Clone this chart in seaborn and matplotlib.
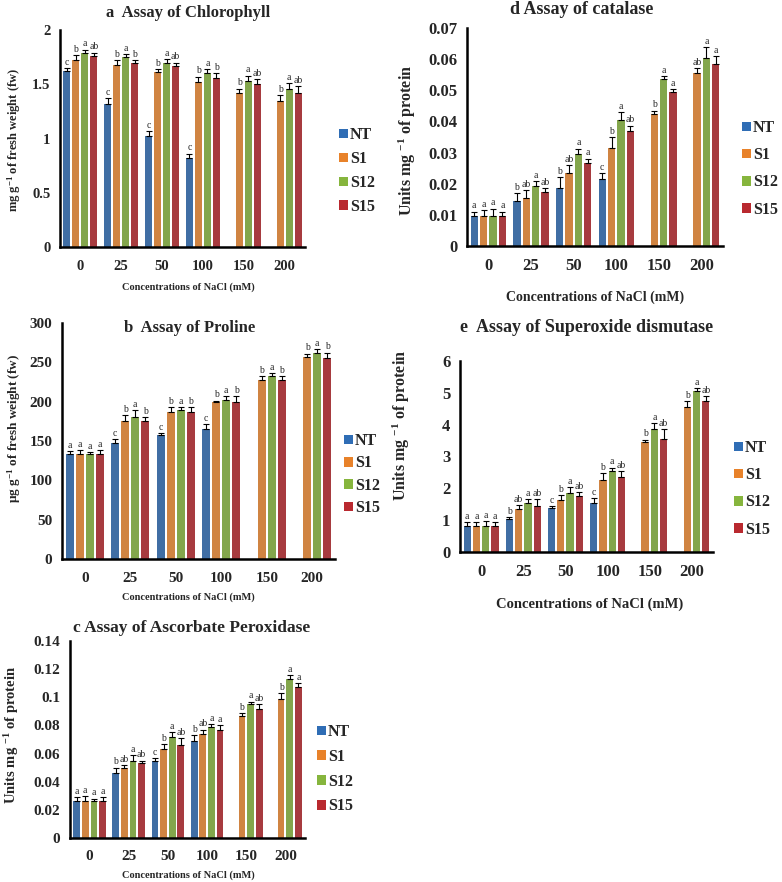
import matplotlib
matplotlib.use("Agg")
import matplotlib.pyplot as plt
import seaborn as sns
import pandas as pd
import numpy as np
from matplotlib.patches import Patch

# Data
conc = ["0", "25", "50", "100", "150", "200"]
lines = ["NT", "S1", "S12", "S15"]
colors = ["#2f6db5", "#e8822a", "#86b53d", "#b9292f"]
nan = np.nan

# a Chlorophyll (mg g-1 fw)
chl = {"NT": [1.62, 1.32, 1.02, 0.82, nan, nan],
       "S1": [1.72, 1.68, 1.61, 1.52, 1.42, 1.35],
       "S12": [1.79, 1.75, 1.70, 1.60, 1.53, 1.46],
       "S15": [1.76, 1.70, 1.67, 1.56, 1.50, 1.42]}
chl_err = {"NT": [0.03, 0.05, 0.05, 0.04, 0, 0],
           "S1": [0.05, 0.04, 0.03, 0.05, 0.04, 0.05],
           "S12": [0.03, 0.03, 0.03, 0.04, 0.05, 0.05],
           "S15": [0.03, 0.02, 0.03, 0.04, 0.05, 0.06]}
chl_let = {"NT": ["c", "c", "c", "c", "", ""],
           "S1": ["b", "b", "b", "b", "b", "b"],
           "S12": ["a", "a", "a", "a", "a", "a"],
           "S15": ["ab", "b", "ab", "b", "ab", "ab"]}

# b Proline (ug g-1 fw)
pro = {"NT": [133, 148, 157, 165, nan, nan],
       "S1": [133, 176, 187, 199, 228, 257],
       "S12": [133, 180, 189, 202, 233, 262],
       "S15": [133, 176, 187, 199, 227, 255]}
pro_err = {"NT": [4, 4, 3, 6, 0, 0],
           "S1": [5, 7, 6, 2, 4, 4],
           "S12": [3, 9, 4, 5, 3, 5],
           "S15": [5, 4, 6, 8, 5, 7]}
pro_let = {"NT": ["a", "c", "c", "c", "", ""],
           "S1": ["a", "b", "b", "b", "b", "b"],
           "S12": ["a", "a", "a", "a", "a", "a"],
           "S15": ["a", "b", "b", "b", "b", "b"]}

# c Ascorbate peroxidase (units mg-1 protein)
apx = {"NT": [0.026, 0.046, 0.055, 0.069, nan, nan],
       "S1": [0.026, 0.050, 0.063, 0.074, 0.087, 0.099],
       "S12": [0.026, 0.055, 0.072, 0.079, 0.095, 0.113],
       "S15": [0.026, 0.053, 0.066, 0.077, 0.092, 0.107]}
apx_err = {"NT": [0.003, 0.004, 0.002, 0.004, 0, 0],
           "S1": [0.004, 0.002, 0.004, 0.003, 0.002, 0.004],
           "S12": [0.002, 0.004, 0.003, 0.002, 0.002, 0.003],
           "S15": [0.003, 0.002, 0.005, 0.003, 0.003, 0.003]}
apx_let = {"NT": ["a", "b", "c", "b", "", ""],
           "S1": ["a", "ab", "b", "ab", "b", "b"],
           "S12": ["a", "a", "a", "a", "a", "a"],
           "S15": ["a", "ab", "ab", "a", "ab", "a"]}

# d Catalase (units mg-1 protein)
cat = {"NT": [0.0095, 0.0145, 0.0185, 0.0215, nan, nan],
       "S1": [0.0095, 0.0155, 0.0235, 0.0315, 0.0425, 0.0555],
       "S12": [0.0095, 0.0193, 0.0295, 0.0405, 0.0535, 0.0605],
       "S15": [0.0095, 0.0175, 0.0265, 0.0368, 0.0495, 0.0585]}
cat_err = {"NT": [0.0015, 0.0025, 0.0035, 0.002, 0, 0],
           "S1": [0.002, 0.0025, 0.0025, 0.0035, 0.001, 0.0015],
           "S12": [0.0025, 0.0015, 0.0018, 0.0025, 0.001, 0.0033],
           "S15": [0.0015, 0.001, 0.0015, 0.0018, 0.0008, 0.0025]}
cat_let = {"NT": ["a", "b", "b", "c", "", ""],
           "S1": ["a", "ab", "ab", "b", "b", "ab"],
           "S12": ["a", "a", "a", "a", "a", "a"],
           "S15": ["a", "ab", "a", "ab", "a", "a"]}

# e Superoxide dismutase (units mg-1 protein)
sod = {"NT": [0.82, 1.05, 1.37, 1.55, nan, nan],
       "S1": [0.82, 1.35, 1.62, 2.25, 3.45, 4.55],
       "S12": [0.82, 1.55, 1.85, 2.55, 3.85, 5.05],
       "S15": [0.82, 1.45, 1.75, 2.35, 3.55, 4.75]}
sod_err = {"NT": [0.12, 0.05, 0.07, 0.15, 0, 0],
           "S1": [0.13, 0.12, 0.18, 0.22, 0.08, 0.2],
           "S12": [0.15, 0.1, 0.2, 0.1, 0.2, 0.1],
           "S15": [0.12, 0.2, 0.12, 0.2, 0.3, 0.15]}
sod_let = {"NT": ["a", "b", "c", "c", "", ""],
           "S1": ["a", "ab", "b", "b", "b", "b"],
           "S12": ["a", "a", "a", "a", "a", "a"],
           "S15": ["a", "ab", "ab", "ab", "ab", "ab"]}

sns.set_style("white")
plt.rcParams["font.family"] = ["Liberation Serif", "DejaVu Serif"]
plt.rcParams["mathtext.fontset"] = "custom"
plt.rcParams["mathtext.rm"] = "Liberation Serif:bold"
plt.rcParams["mathtext.it"] = "Liberation Serif:bold"
plt.rcParams["mathtext.bf"] = "Liberation Serif:bold"

W, H = 782, 882
fig = plt.figure(figsize=(W / 100, H / 100), dpi=100)


def px_axes(left, top, right, bottom):
    return fig.add_axes([left / W, 1 - bottom / H, (right - left) / W, (bottom - top) / H])


def draw_panel(box, vals, errs, lets, ylim, yticks, ytl, tick_fs, let_fs):
    ax = px_axes(*box)
    rows = []
    for ln in lines:
        for c, v in zip(conc, vals[ln]):
            if not np.isnan(v):
                rows.append({"conc": c, "line": ln, "value": v})
    df = pd.DataFrame(rows)
    sns.barplot(data=df, x="conc", y="value", hue="line", order=conc, hue_order=lines,
                palette=colors, errorbar=None, width=0.88, gap=0.22, legend=False,
                edgecolor="none", ax=ax)
    bar_conts = list(ax.containers)
    for hi, cont in enumerate(bar_conts):
        ln = lines[hi]
        for bar in cont:
            xc = bar.get_x() + bar.get_width() / 2
            ci = int(round(xc))
            h = bar.get_height()
            e = errs[ln][ci]
            ax.errorbar(xc, h, yerr=[[0], [e]], fmt="none", ecolor="black",
                        elinewidth=0.8, capsize=2.2, capthick=0.8)
            ax.text(xc, h + e + ylim[1] * 0.006, lets[ln][ci], ha="center", va="bottom",
                    fontsize=let_fs)
    ax.set_xlim(-0.5, 5.5)
    ax.set_ylim(*ylim)
    ax.set_yticks(yticks)
    ax.set_yticklabels(ytl, fontsize=tick_fs, fontweight="bold")
    ax.set_xticks(range(6))
    ax.set_xticklabels(conc, fontsize=tick_fs, fontweight="bold")
    ax.set_xticks(np.arange(-0.5, 6, 1), minor=True)
    ax.tick_params(axis="x", which="major", length=0, pad=9)
    ax.tick_params(axis="x", which="minor", length=4, width=1.2, direction="out")
    ax.tick_params(axis="y", length=4, width=1.2, direction="out", pad=3)
    ax.set_xlabel("")
    ax.set_ylabel("")
    sns.despine(ax=ax)
    for s in ["left", "bottom"]:
        ax.spines[s].set_linewidth(1.8)
        ax.spines[s].set_color("black")
    return ax


def legend_at(x, y, spacing, fs=11.5):
    handles = [Patch(facecolor=c, edgecolor="none") for c in colors]
    fig.legend(handles, lines, loc="upper left", bbox_to_anchor=(x / W, 1 - y / H),
               frameon=False, handlelength=0.55, handleheight=0.55, handletextpad=0.15,
               labelspacing=spacing, borderpad=0, borderaxespad=0,
               prop={"family": "Liberation Serif", "weight": "bold", "size": fs})


# a Chlorophyll
draw_panel((60, 30, 305, 247), chl, chl_err, chl_let, (0, 2),
           [0, 0.5, 1, 1.5, 2], ["0", "0.5", "1", "1.5", "2"], 10.5, 7)
fig.text(188 / W, 1 - 13 / H, "a  Assay of Chlorophyll", ha="center", va="center",
         fontsize=12, fontweight="bold")
fig.text(188 / W, 1 - 287 / H, "Concentrations of NaCl (mM)", ha="center", va="center",
         fontsize=7.5, fontweight="bold")
fig.text(14 / W, 1 - 140 / H, r"mg g$^{-1}$ of fresh weight (fw)", ha="center", va="center",
         rotation=90, fontsize=9, fontweight="bold")
legend_at(339, 127, 0.5)

# d Catalase
draw_panel((467, 28, 723, 246), cat, cat_err, cat_let, (0, 0.07),
           [0, 0.01, 0.02, 0.03, 0.04, 0.05, 0.06, 0.07],
           ["0", "0.01", "0.02", "0.03", "0.04", "0.05", "0.06", "0.07"], 12, 7)
fig.text(582 / W, 1 - 10 / H, "d Assay of catalase", ha="center", va="center",
         fontsize=13, fontweight="bold")
fig.text(595 / W, 1 - 297 / H, "Concentrations of NaCl (mM)", ha="center", va="center",
         fontsize=10, fontweight="bold")
fig.text(407 / W, 1 - 140 / H, r"Units mg $^{-1}$ of protein", ha="center", va="center",
         rotation=90, fontsize=11.5, fontweight="bold")
legend_at(742, 120, 0.7)

# b Proline
draw_panel((62, 323, 335, 559), pro, pro_err, pro_let, (0, 300),
           [0, 50, 100, 150, 200, 250, 300],
           ["0", "50", "100", "150", "200", "250", "300"], 11, 7)
fig.text(190 / W, 1 - 328 / H, "b  Assay of Proline", ha="center", va="center",
         fontsize=12, fontweight="bold")
fig.text(188 / W, 1 - 597 / H, "Concentrations of NaCl (mM)", ha="center", va="center",
         fontsize=7.5, fontweight="bold")
fig.text(14 / W, 1 - 428 / H, r"$\mu$g g$^{-1}$ of fresh weight (fw)", ha="center",
         va="center", rotation=90, fontsize=9.5, fontweight="bold")
legend_at(344, 433, 0.4)

# e Superoxide dismutase
draw_panel((460, 361, 713, 552), sod, sod_err, sod_let, (0, 6),
           [0, 1, 2, 3, 4, 5, 6], ["0", "1", "2", "3", "4", "5", "6"], 12, 7)
fig.text(587 / W, 1 - 328 / H, "e  Assay of Superoxide dismutase", ha="center", va="center",
         fontsize=13, fontweight="bold")
fig.text(590 / W, 1 - 604 / H, "Concentrations of NaCl (mM)", ha="center", va="center",
         fontsize=10.5, fontweight="bold")
fig.text(401 / W, 1 - 425 / H, r"Units mg $^{-1}$ of protein", ha="center", va="center",
         rotation=90, fontsize=11.5, fontweight="bold")
legend_at(734, 440, 0.7)

# c Ascorbate peroxidase
draw_panel((70, 641, 305, 838), apx, apx_err, apx_let, (0, 0.14),
           [0, 0.02, 0.04, 0.06, 0.08, 0.1, 0.12, 0.14],
           ["0", "0.02", "0.04", "0.06", "0.08", "0.1", "0.12", "0.14"], 11, 7)
fig.text(192 / W, 1 - 628 / H, "c Assay of Ascorbate Peroxidase", ha="center", va="center",
         fontsize=12.5, fontweight="bold")
fig.text(188 / W, 1 - 875 / H, "Concentrations of NaCl (mM)", ha="center", va="center",
         fontsize=7.5, fontweight="bold")
fig.text(12 / W, 1 - 735 / H, r"Units mg $^{-1}$ of protein", ha="center", va="center",
         rotation=90, fontsize=10.5, fontweight="bold")
legend_at(317, 724, 0.55)

fig.savefig("out.png", dpi=100)
